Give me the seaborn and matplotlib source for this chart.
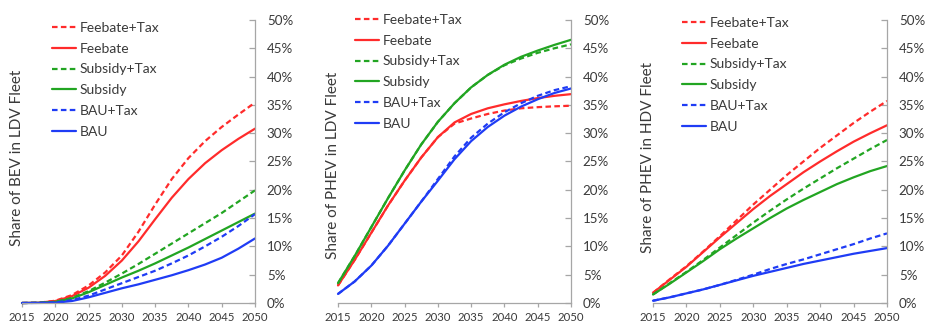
import matplotlib
matplotlib.use("Agg")
import matplotlib.pyplot as plt
import seaborn as sns
import pandas as pd

# Model years (every 2.5 years)
years = [2015, 2017.5, 2020, 2022.5, 2025, 2027.5, 2030, 2032.5,
         2035, 2037.5, 2040, 2042.5, 2045, 2047.5, 2050]

scenarios = ["Feebate+Tax", "Feebate", "Subsidy+Tax", "Subsidy", "BAU+Tax", "BAU"]

# Share of BEV in LDV fleet (%)
bev_ldv_feebate_tax = [0, 0.05, 0.4, 1.4, 3.1, 5.4, 8.4, 12.6, 17.4, 21.9, 25.6, 28.6, 31.1, 33.3, 35.4]
bev_ldv_feebate     = [0, 0.05, 0.35, 1.2, 2.7, 4.8, 7.5, 10.9, 14.8, 18.6, 21.9, 24.7, 27.0, 29.0, 30.8]
bev_ldv_subsidy_tax = [0, 0.03, 0.2, 0.9, 2.1, 3.6, 5.2, 6.9, 8.7, 10.5, 12.3, 14.1, 15.9, 17.9, 19.9]
bev_ldv_subsidy     = [0, 0.03, 0.2, 0.8, 1.9, 3.2, 4.5, 5.7, 7.0, 8.4, 9.8, 11.3, 12.8, 14.3, 15.8]
bev_ldv_bau_tax     = [0, 0.02, 0.1, 0.5, 1.3, 2.4, 3.5, 4.6, 5.7, 7.0, 8.4, 10.0, 11.7, 13.6, 15.7]
bev_ldv_bau         = [0, 0.01, 0.05, 0.35, 1.0, 1.8, 2.6, 3.3, 4.1, 4.9, 5.8, 6.8, 8.0, 9.6, 11.4]

# Share of PHEV in LDV fleet (%)
phev_ldv_feebate_tax = [3.1, 7.6, 12.4, 17.2, 21.6, 25.7, 29.3, 31.7, 32.6, 33.4, 34.0, 34.4, 34.6, 34.75, 34.85]
phev_ldv_feebate     = [3.1, 7.6, 12.4, 17.2, 21.6, 25.7, 29.3, 31.9, 33.4, 34.4, 35.1, 35.7, 36.2, 36.6, 36.9]
phev_ldv_subsidy_tax = [3.5, 8.3, 13.4, 18.5, 23.4, 28.0, 32.0, 35.3, 38.1, 40.3, 42.0, 43.2, 44.2, 45.0, 45.7]
phev_ldv_subsidy     = [3.5, 8.3, 13.4, 18.5, 23.4, 28.0, 32.0, 35.3, 38.1, 40.3, 42.1, 43.5, 44.6, 45.6, 46.5]
phev_ldv_bau_tax     = [1.6, 3.8, 6.6, 10.1, 14.0, 17.9, 21.9, 25.9, 29.2, 31.7, 33.7, 35.3, 36.6, 37.6, 38.3]
phev_ldv_bau         = [1.6, 3.8, 6.6, 10.1, 14.0, 17.9, 21.6, 25.4, 28.6, 31.1, 33.1, 34.7, 36.0, 37.1, 37.9]

# Share of PHEV in HDV fleet (%)
phev_hdv_feebate_tax = [1.8, 4.2, 6.5, 9.1, 11.8, 14.6, 17.4, 20.0, 22.6, 25.0, 27.4, 29.6, 31.8, 33.8, 35.7]
phev_hdv_feebate     = [1.8, 4.1, 6.4, 9.0, 11.6, 14.1, 16.6, 18.9, 21.0, 23.1, 25.0, 26.8, 28.5, 30.0, 31.4]
phev_hdv_subsidy_tax = [1.5, 3.5, 5.5, 7.6, 9.8, 12.0, 14.2, 16.3, 18.3, 20.2, 22.0, 23.8, 25.5, 27.2, 28.8]
phev_hdv_subsidy     = [1.5, 3.4, 5.4, 7.4, 9.5, 11.4, 13.2, 15.0, 16.7, 18.2, 19.6, 21.0, 22.2, 23.3, 24.2]
phev_hdv_bau_tax     = [0.4, 1.0, 1.7, 2.4, 3.2, 4.1, 5.0, 6.0, 6.9, 7.7, 8.6, 9.5, 10.4, 11.4, 12.3]
phev_hdv_bau         = [0.4, 1.0, 1.7, 2.4, 3.2, 4.0, 4.8, 5.5, 6.2, 6.9, 7.5, 8.1, 8.7, 9.2, 9.7]

panels = [
    ("Share of BEV in LDV Fleet",
     [bev_ldv_feebate_tax, bev_ldv_feebate, bev_ldv_subsidy_tax,
      bev_ldv_subsidy, bev_ldv_bau_tax, bev_ldv_bau]),
    ("Share of PHEV in LDV Fleet",
     [phev_ldv_feebate_tax, phev_ldv_feebate, phev_ldv_subsidy_tax,
      phev_ldv_subsidy, phev_ldv_bau_tax, phev_ldv_bau]),
    ("Share of PHEV in HDV Fleet",
     [phev_hdv_feebate_tax, phev_hdv_feebate, phev_hdv_subsidy_tax,
      phev_hdv_subsidy, phev_hdv_bau_tax, phev_hdv_bau]),
]

colors = {"Feebate+Tax": "#ff2b2b", "Feebate": "#ff2b2b",
          "Subsidy+Tax": "#22a522", "Subsidy": "#22a522",
          "BAU+Tax": "#1f3cf5", "BAU": "#1f3cf5"}
dash = (0, (2.5, 1.5))
styles = {"Feebate+Tax": dash, "Feebate": "-",
          "Subsidy+Tax": dash, "Subsidy": "-",
          "BAU+Tax": dash, "BAU": "-"}

sns.set_theme(style="white")
plt.rcParams["font.family"] = ["Lato", "DejaVu Sans"]

W, H = 925, 322
fig = plt.figure(figsize=(W / 100, H / 100), dpi=100)

# axes boxes in pixels: (left, right); all share top=20, bottom=303
boxes = [(22, 255), (338, 571), (653, 887)]
legend_offsets = [(30, 22), (17, 14), (29, 17)]
label_pos = [(17, 158), (333, 165), (648, 158)]

spine_color = "#a6a6a6"
text_color = "#3a3a3a"

for (title, series), (x0, x1), (lx, ly), (tx, ty) in zip(panels, boxes, legend_offsets, label_pos):
    ax = fig.add_axes([x0 / W, (H - 303) / H, (x1 - x0) / W, 283 / H])
    for name, vals in zip(scenarios, series):
        df = pd.DataFrame({"year": years, "share": [v / 100 for v in vals]})
        sns.lineplot(data=df, x="year", y="share", ax=ax, color=colors[name],
                     linestyle=styles[name], linewidth=1.6, label=name,
                     clip_on=False)
    ax.set_xlim(2015, 2050)
    ax.set_ylim(0, 0.5)
    ax.set_xticks(range(2015, 2051, 5))
    ax.set_yticks([i / 100 for i in range(0, 51, 5)])
    ax.set_yticklabels([f"{i}%" for i in range(0, 51, 5)])
    ax.set_xlabel("")
    ax.set_ylabel("")
    ax.yaxis.tick_right()
    for s in ("top", "left"):
        ax.spines[s].set_visible(False)
    for s in ("right", "bottom"):
        ax.spines[s].set_color(spine_color)
        ax.spines[s].set_linewidth(0.9)
    ax.tick_params(axis="y", direction="in", length=4, width=0.9, color=spine_color,
                   labelsize=9.6, labelcolor=text_color, pad=8.5, right=True, left=False)
    ax.tick_params(axis="x", direction="out", length=3, width=0.9, color=spine_color,
                   labelsize=8.2, labelcolor=text_color, pad=3.5, bottom=True)
    leg = ax.legend(loc="upper left",
                    bbox_to_anchor=(lx / (x1 - x0), 1 - (ly - 20) / 283),
                    frameon=False, fontsize=10, handlelength=1.75,
                    handletextpad=0.25, labelspacing=0.63, borderpad=0,
                    borderaxespad=0)
    for t in leg.get_texts():
        t.set_color(text_color)
    fig.text(tx / W, 1 - ty / H, title, rotation=90, ha="center", va="center",
             fontsize=11, color=text_color)

fig.savefig("out.png", dpi=100, facecolor="white")
